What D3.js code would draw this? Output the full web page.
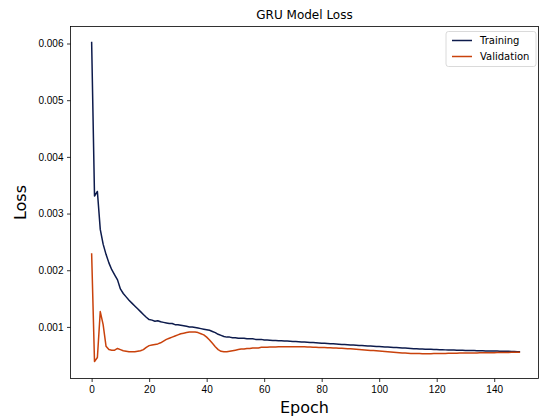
<!DOCTYPE html>
<html>
<head>
<meta charset="utf-8">
<script src="https://cdn.jsdelivr.net/npm/d3@7"></script>
<style>
  body { margin: 0; background: #fff; }
  svg { display: block; font-family: "DejaVu Sans", sans-serif; }
  .axis text { font-size: 10px; fill: #000; }
  .axis path, .axis line { stroke: #000; stroke-width: 0.8; }
</style>
</head>
<body>
<div id="chart"></div>
<script>
const title = "GRU Model Loss"
const xLabel = "Epoch"
const yLabel = "Loss"
const seriesNames = ["Training", "Validation"]
const seriesColours = ["#0d1b4c", "#c9420c"]
const xTicks = [0, 20, 40, 60, 80, 100, 120, 140]
const yTicks = [0.001, 0.002, 0.003, 0.004, 0.005, 0.006]

const training = [
    0.00603, 0.00331, 0.00339, 0.00272, 0.00246, 0.00228, 0.00213, 0.00201, 0.00192, 0.00183,
    0.00167, 0.00159, 0.00153, 0.00147, 0.00142, 0.00137, 0.00132, 0.00127, 0.00122, 0.00117,
    0.00113, 0.00112, 0.0011, 0.00111, 0.00109, 0.00108, 0.00107, 0.00106, 0.00106, 0.00104,
    0.00104, 0.00103, 0.00102, 0.00101, 0.001, 0.001, 0.00099, 0.00098, 0.00097, 0.00096,
    0.00095, 0.00094, 0.00092, 0.0009, 0.00087, 0.00085, 0.00083, 0.00082, 0.00082, 0.00081,
    0.00081, 0.0008, 0.0008, 0.0008, 0.00079, 0.00079, 0.00079, 0.00078, 0.00078, 0.00078,
    0.00077, 0.000768, 0.000765, 0.000762, 0.00076, 0.000757, 0.000754, 0.000752, 0.00075, 0.000747,
    0.000744, 0.000741, 0.000738, 0.000736, 0.000733, 0.00073, 0.000727, 0.000724, 0.000721, 0.000718,
    0.000712, 0.00071, 0.000707, 0.000704, 0.000701, 0.000698, 0.000695, 0.000692, 0.000689, 0.000686,
    0.000683, 0.00068, 0.000677, 0.000674, 0.000671, 0.000668, 0.000665, 0.000662, 0.000659, 0.000656,
    0.000653, 0.00065, 0.000647, 0.000644, 0.000641, 0.000638, 0.000635, 0.000632, 0.000629, 0.000626,
    0.000623, 0.00062, 0.000617, 0.000614, 0.000612, 0.00061, 0.000608, 0.000606, 0.000604, 0.000602,
    0.0006, 0.000598, 0.000597, 0.000595, 0.000594, 0.000592, 0.000591, 0.000589, 0.000588, 0.000587,
    0.000585, 0.000584, 0.000583, 0.000582, 0.00058, 0.000579, 0.000578, 0.000577, 0.000576, 0.000575,
    0.000574, 0.000573, 0.000572, 0.000571, 0.00057, 0.000569, 0.000567, 0.000566, 0.000564, 0.000562,
]

const validation = [
    0.0023, 0.00039, 0.00046, 0.00127, 0.00104, 0.00066, 0.0006, 0.00059, 0.00059, 0.00062,
    0.0006, 0.00058, 0.00057, 0.00056, 0.00056, 0.00056, 0.00057, 0.00058, 0.0006, 0.00064,
    0.00067, 0.00068, 0.00069, 0.0007, 0.00072, 0.00075, 0.00078, 0.0008, 0.00082, 0.00084,
    0.00086, 0.00088, 0.00089, 0.0009, 0.00091, 0.00091, 0.00091, 0.0009, 0.00088, 0.00086,
    0.00082, 0.00077, 0.00071, 0.00065, 0.0006, 0.00057, 0.00056, 0.00056, 0.00057, 0.00058,
    0.00059, 0.0006, 0.00061, 0.00061, 0.00062, 0.00062, 0.00063, 0.00063, 0.00063, 0.00064,
    0.00064, 0.000643, 0.000645, 0.000646, 0.000647, 0.000648, 0.000649, 0.00065, 0.00065, 0.00065,
    0.00065, 0.00065, 0.00065, 0.000649, 0.000648, 0.000647, 0.000645, 0.000643, 0.000641, 0.000639,
    0.000637, 0.000635, 0.000633, 0.000631, 0.000629, 0.000627, 0.000625, 0.000622, 0.000619, 0.000616,
    0.000613, 0.00061, 0.000606, 0.000602, 0.000598, 0.000594, 0.00059, 0.000586, 0.000582, 0.000578,
    0.000574, 0.00057, 0.000566, 0.000562, 0.000558, 0.000554, 0.00055, 0.000546, 0.000542, 0.000539,
    0.000536, 0.000533, 0.000531, 0.00053, 0.000529, 0.000528, 0.000528, 0.000528, 0.000528, 0.000529,
    0.00053, 0.000531, 0.000532, 0.000533, 0.000534, 0.000535, 0.000536, 0.000537, 0.000538, 0.000539,
    0.00054, 0.00054, 0.000541, 0.000541, 0.000542, 0.000543, 0.000543, 0.000544, 0.000545, 0.000545,
    0.000546, 0.000547, 0.000547, 0.000548, 0.000549, 0.00055, 0.000551, 0.000552, 0.000553, 0.000554,
]

const W = 540
const H = 420
const margin = { top: 26.5, right: 1.5, bottom: 41.5, left: 70.5 }
const width = W - margin.left - margin.right
const height = H - margin.top - margin.bottom

const svg = d3.select("#chart").append("svg")
    .attr("width", W)
    .attr("height", H)

const g = svg.append("g")
    .attr("transform", "translate(" + margin.left + "," + margin.top + ")")

const x = d3.scaleLinear().domain([-7.35, 155.4]).range([0, width])
const y = d3.scaleLinear().domain([0.00009, 0.0063]).range([height, 0])

const xAxis = g.append("g")
    .attr("class", "axis")
    .attr("transform", "translate(0," + height + ")")
    .call(d3.axisBottom(x).tickValues(xTicks).tickSize(3.5).tickPadding(3.5).tickSizeOuter(0))
xAxis.select(".domain").remove()

const yAxis = g.append("g")
    .attr("class", "axis")
    .call(d3.axisLeft(y).tickValues(yTicks).tickFormat(d3.format(".3f")).tickSize(3.5).tickPadding(3.5).tickSizeOuter(0))
yAxis.select(".domain").remove()

const allSeries = [training, validation]
const line = d3.line()
    .x((d, i) => x(i))
    .y((d) => y(d))

allSeries.forEach((data, i) => {
    g.append("path")
        .datum(data)
        .attr("fill", "none")
        .attr("stroke", seriesColours[i])
        .attr("stroke-width", 1.5)
        .attr("stroke-linejoin", "round")
        .attr("d", line)
})

// frame
g.append("rect")
    .attr("width", width)
    .attr("height", height)
    .attr("fill", "none")
    .attr("stroke", "#000")
    .attr("stroke-width", 0.8)

// legend
const legend = g.append("g")
    .attr("transform", "translate(" + (width - 92.5) + ",5)")
legend.append("rect")
    .attr("width", 90)
    .attr("height", 35)
    .attr("rx", 2.5)
    .attr("fill", "#fff")
    .attr("fill-opacity", 0.8)
    .attr("stroke", "#d0d0d0")
    .attr("stroke-width", 0.8)
seriesNames.forEach((name, i) => {
    const row = legend.append("g").attr("transform", "translate(0," + (9 + i * 16) + ")")
    row.append("line")
        .attr("x1", 6).attr("x2", 26)
        .attr("stroke", seriesColours[i])
        .attr("stroke-width", 1.5)
    row.append("text")
        .attr("x", 34)
        .attr("dy", "0.35em")
        .attr("font-size", 10)
        .text(name)
})

svg.append("text")
    .attr("x", margin.left + width / 2)
    .attr("y", 19)
    .attr("text-anchor", "middle")
    .attr("font-size", 12)
    .text(title)

svg.append("text")
    .attr("x", margin.left + width / 2)
    .attr("y", 413)
    .attr("text-anchor", "middle")
    .attr("font-size", 16)
    .text(xLabel)

svg.append("text")
    .attr("transform", "translate(26," + (margin.top + height / 2) + ") rotate(-90)")
    .attr("text-anchor", "middle")
    .attr("font-size", 16)
    .text(yLabel)
</script>
</body>
</html>
